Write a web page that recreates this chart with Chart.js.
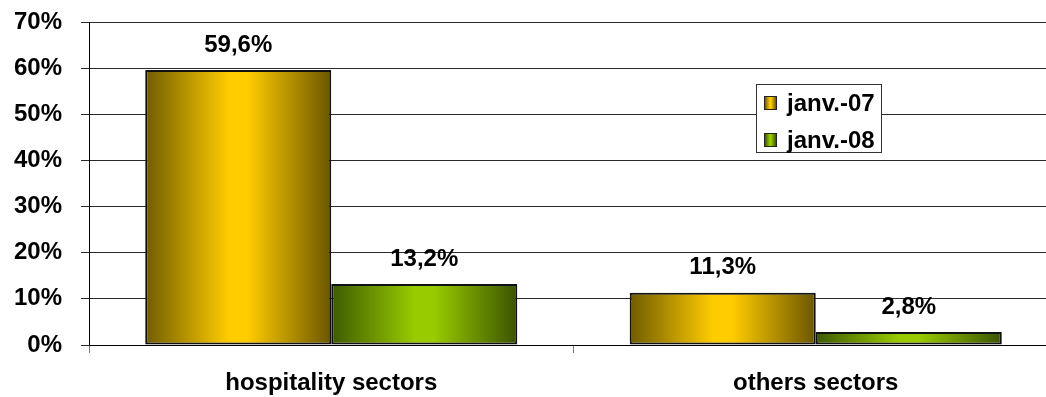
<!DOCTYPE html>
<html>
<head>
<meta charset="utf-8">
<script src="https://cdn.jsdelivr.net/npm/chart.js@4/dist/chart.umd.min.js"></script>
<style>
	html, body { margin: 0; padding: 0; background: #fff; overflow: hidden; }
	#wrap { position: relative; width: 1058px; height: 397px; }
	#legend {
		position: absolute; left: 756px; top: 84px; width: 126px; height: 69px;
		background: #fff; border: 1px solid #333; box-sizing: border-box;
		font: bold 24px 'Liberation Sans', Arial, sans-serif; color: #000;
	}
	.item { position: absolute; left: 7px; height: 28px; line-height: 28px; white-space: nowrap; }
	.item span.sw {
		display: inline-block; width: 11px; height: 12px; border: 1px solid #222;
		vertical-align: middle; margin-right: 10px; position: relative; top: -2px;
	}
</style>
</head>
<body>
<div id="wrap">
	<canvas id="chart"></canvas>
	<div id="legend"></div>
</div>
<script>
// data
const categories = ['hospitality sectors', 'others sectors'];
const seriesNames = ['janv.-07', 'janv.-08'];
const values07 = [59.6, 11.3];
const values08 = [13.2, 2.8];
const yMin = 0;
const yMax = 70;
const yStep = 10;

const FONT = "'Liberation Sans', Arial, sans-serif";
const CAT_PCT = 0.768;

// gradient stops (edge, centre, edge)
const goldStops = ['#705c00', '#ffcc00', '#6b5600'];
const greenStops = ['#3d5a00', '#99cc00', '#3b5300'];

function barFill(c, stops) {
	const chart = c.chart;
	const xs = chart.scales.x;
	if (!xs || c.type !== 'data') return stops[1];
	const catW = xs.width / categories.length;
	const barW = catW * CAT_PCT / 2;
	const left = xs.getPixelForValue(c.dataIndex) - catW * CAT_PCT / 2 + c.datasetIndex * barW;
	if (!isFinite(left) || barW <= 0) return stops[1];
	const g = chart.ctx.createLinearGradient(left, 0, left + barW, 0);
	g.addColorStop(0, stops[0]);
	g.addColorStop(0.45, stops[1]);
	g.addColorStop(0.55, stops[1]);
	g.addColorStop(1, stops[2]);
	return g;
}

// values above bars
const valueLabels = {
	id: 'valueLabels',
	afterDatasetsDraw(chart) {
		const ctx = chart.ctx;
		ctx.save();
		ctx.font = 'bold 24px ' + FONT;
		ctx.fillStyle = '#000';
		ctx.textAlign = 'center';
		ctx.textBaseline = 'middle';
		chart.data.datasets.forEach((ds, i) => {
			chart.getDatasetMeta(i).data.forEach((el, j) => {
				const txt = ds.data[j].toFixed(1).replace('.', ',') + '%';
				ctx.fillText(txt, el.x, el.y - 25);
			});
		});
		ctx.restore();
	}
};

const ctx = document.getElementById('chart');
new Chart(ctx, {
	type: 'bar',
	data: {
		labels: categories,
		datasets: [{
			label: seriesNames[0],
			data: values07,
			backgroundColor: (c) => barFill(c, goldStops),
			borderColor: '#111',
			borderWidth: 2,
			borderSkipped: false,
		}, {
			label: seriesNames[1],
			data: values08,
			backgroundColor: (c) => barFill(c, greenStops),
			borderColor: '#111',
			borderWidth: 2,
			borderSkipped: false,
		}],
	},
	options: {
		responsive: true,
		maintainAspectRatio: false,
		animation: false,
		layout: { padding: { top: 22, left: 0, right: 0, bottom: 0 } },
		datasets: { bar: { categoryPercentage: CAT_PCT, barPercentage: 1 } },
		plugins: {
			legend: { display: false },
			tooltip: { enabled: false },
		},
		scales: {
			x: {
				afterFit(scale) { scale.height = 52; },
				grid: { offset: true, drawOnChartArea: false, tickLength: 8, color: '#777' },
				border: { color: '#000', width: 1 },
				ticks: {
					color: '#000',
					padding: 16,
					font: { family: FONT, size: 24, weight: 'bold' },
				},
			},
			y: {
				min: yMin,
				max: yMax,
				afterFit(scale) {
					scale.width = 89;
					scale.paddingTop = 0;
					scale.paddingBottom = 0;
				},
				grid: { color: '#2a2a2a', lineWidth: 1, tickLength: 8 },
				border: { color: '#000', width: 1 },
				ticks: {
					stepSize: yStep,
					color: '#000',
					padding: 19,
					font: { family: FONT, size: 24, weight: 'bold' },
					callback: (v) => v + '%',
				},
			},
		},
	},
	plugins: [valueLabels],
});

// legend in the plot
const leg = document.getElementById('legend');
const legStops = [goldStops, greenStops];
seriesNames.forEach((name, i) => {
	const d = document.createElement('div');
	d.className = 'item';
	d.style.top = (4 + i * 37) + 'px';
	const s = legStops[i];
	d.innerHTML = '<span class="sw" style="background:linear-gradient(to right,' + s[0] + ',' + s[1] + ' 45%,' + s[1] + ' 55%,' + s[2] + ')"></span>' + name;
	leg.appendChild(d);
});
</script>
</body>
</html>
